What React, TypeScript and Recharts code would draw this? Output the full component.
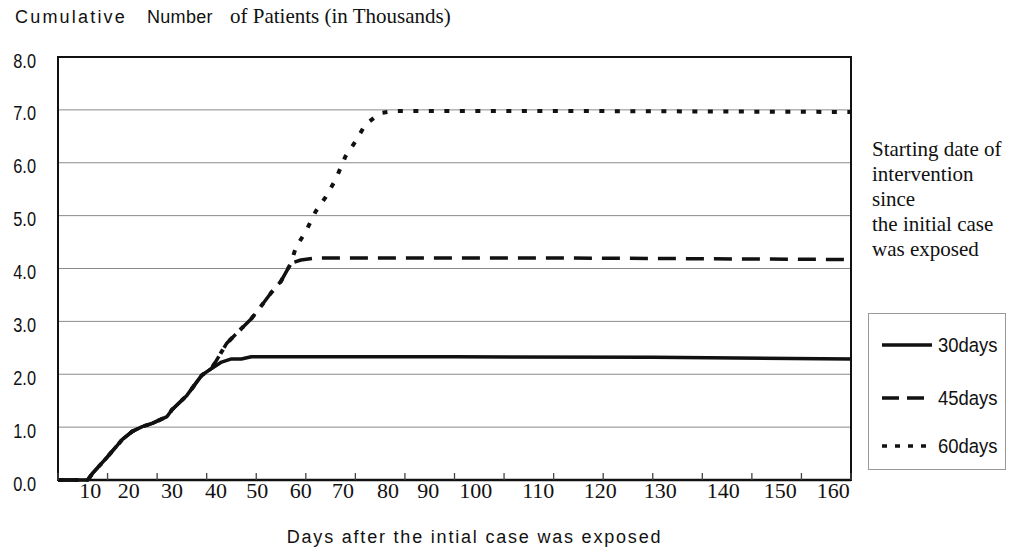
import React from "react";
import { LineChart, Line, XAxis, YAxis, CartesianGrid, ReferenceArea } from "recharts";

// days since the first exposure, and cumulative patients (thousands)
const days30 = [0, 6, 7, 10, 13, 15, 17, 19, 22, 23, 26, 29, 31, 33, 35, 37, 39, 80, 120, 160];
const values30 = [0, 0, 0.13, 0.44, 0.77, 0.92, 1.01, 1.07, 1.2, 1.33, 1.6, 1.98, 2.11, 2.23, 2.29, 2.29, 2.33, 2.33, 2.32, 2.29];

const days45 = [0, 6, 7, 10, 13, 15, 17, 19, 22, 23, 26, 29, 31, 34, 36, 39, 41, 43, 45, 47, 49, 52, 100, 160];
const values45 = [0, 0, 0.13, 0.44, 0.77, 0.92, 1.01, 1.07, 1.2, 1.33, 1.6, 1.98, 2.11, 2.58, 2.77, 3.05, 3.29, 3.54, 3.76, 4.1, 4.16, 4.2, 4.2, 4.17];

const days60 = [0, 6, 7, 10, 13, 15, 17, 19, 22, 23, 26, 29, 31, 34, 36, 39, 41, 43, 45, 47, 48, 50, 52, 54, 56, 58, 60, 62, 65, 68, 100, 160];
const values60 = [0, 0, 0.13, 0.44, 0.77, 0.92, 1.01, 1.07, 1.2, 1.33, 1.6, 1.98, 2.11, 2.58, 2.77, 3.05, 3.29, 3.54, 3.76, 4.1, 4.4, 4.7, 5.08, 5.35, 5.68, 6.12, 6.4, 6.72, 6.94, 6.98, 6.98, 6.96];

const yTicks = [0, 1, 2, 3, 4, 5, 6, 7, 8];
const xTickMarks = [0, 10, 20, 30, 40, 50, 60, 70, 80, 90, 100, 110, 120, 130, 140, 150, 160];
// the printed labels sit off their tick marks in the original figure
const xLabels = ["10", "20", "30", "40", "50", "60", "70", "80", "90", "100", "110", "120", "130", "140", "150", "160"];
const xLabelAt = [6.5, 14.3, 23.0, 31.9, 40.2, 49.0, 57.5, 66.6, 74.7, 84.3, 96.9, 109.4, 121.5, 134.2, 145.7, 156.4];

// both x axes share the 0-160 domain; one line is bound to the tick-mark axis so it gets ticks
const series = [
  { name: "30days", days: days30, values: values30, dash: undefined, width: 3.5, axis: "marks" },
  { name: "45days", days: days45, values: values45, dash: "18 10", width: 3.5, axis: "labels" },
  { name: "60days", days: days60, values: values60, dash: "5 10.5", width: 4, axis: "labels" },
];

const SERIF = '"Liberation Serif", "Times New Roman", serif';
const SANS = '"Liberation Sans", Arial, sans-serif';
const INK = "#111";

const CHART_W = 1020;
const CHART_H = 550;
const LABEL_AXIS_H = 40;
const TITLE_AXIS_H = 30;
const PLOT_BOTTOM = CHART_H - LABEL_AXIS_H - TITLE_AXIS_H;

const toRows = (days: number[], values: number[]) => days.map((day, i) => ({ day, v: values[i] }));

function XLabelTick(props: any) {
  const { x, y, payload } = props;
  return (
    <text x={x} y={y + 14} textAnchor="middle" fontFamily={SERIF} fontSize={22} fill={INK}>
      {xLabels[xLabelAt.indexOf(payload.value)]}
    </text>
  );
}

// short tick marks pointing up into the plot from the bottom axis
function XMarkTick(props: any) {
  const { x } = props;
  return <line x1={x} x2={x} y1={PLOT_BOTTOM} y2={PLOT_BOTTOM - 7} stroke="#444" strokeWidth={1.3} />;
}

function YLabelTick(props: any) {
  const { x, y, payload } = props;
  return (
    <text transform={`translate(${x},${y + 10.5}) scale(0.78,1)`} textAnchor="end" fontFamily={SANS} fontSize={21} fill={INK}>
      {Number(payload.value).toFixed(1)}
    </text>
  );
}

function LegendBox() {
  const samples = [
    { name: "30days", dash: undefined, top: 31 },
    { name: "45days", dash: "17 8", top: 84 },
    { name: "60days", dash: "5 8", top: 132 },
  ];
  return (
    <div style={{ position: "absolute", left: 868, top: 313, width: 138, height: 157, boxSizing: "border-box", border: "1px solid #999" }}>
      {samples.map((s) => (
        <div key={s.name} style={{ position: "absolute", left: 13, top: s.top - 12, height: 24, display: "flex", alignItems: "center" }}>
          <svg width={52} height={24}>
            <line x1={0} y1={12} x2={50} y2={12} stroke={INK} strokeWidth={3.5} strokeDasharray={s.dash} />
          </svg>
          <span style={{ fontFamily: SANS, fontSize: 20.5, color: INK, marginLeft: 4, display: "inline-block", transform: "scaleX(0.9)", transformOrigin: "left center" }}>
            {s.name}
          </span>
        </div>
      ))}
    </div>
  );
}

export default function App() {
  return (
    <div style={{ position: "absolute", left: 0, top: 0, width: CHART_W, height: CHART_H, background: "#fff" }}>
      <span style={{ position: "absolute", left: 15, top: 5, fontFamily: SANS, fontSize: 18, letterSpacing: 2.2, color: INK, lineHeight: "24px" }}>Cumulative</span>
      <span style={{ position: "absolute", left: 147, top: 5, fontFamily: SANS, fontSize: 18, letterSpacing: 0.3, color: INK, lineHeight: "24px" }}>Number</span>
      <span style={{ position: "absolute", left: 230, top: 4, fontFamily: SERIF, fontSize: 21, color: INK, lineHeight: "24px" }}>of Patients (in Thousands)</span>

      <LineChart width={CHART_W} height={CHART_H} margin={{ top: 57, right: 169, bottom: 0, left: 0 }}>
        <CartesianGrid vertical={false} stroke="#8a8a8a" strokeWidth={1} xAxisId="labels" />
        <XAxis
          xAxisId="labels"
          type="number"
          dataKey="day"
          domain={[0, 160]}
          ticks={xLabelAt}
          interval={0}
          tick={XLabelTick}
          tickLine={false}
          tickSize={4}
          tickMargin={0}
          axisLine={{ stroke: INK, strokeWidth: 2.5 }}
          height={LABEL_AXIS_H}
        />
        <XAxis
          xAxisId="marks"
          type="number"
          dataKey="day"
          domain={[0, 160]}
          ticks={xTickMarks}
          interval={0}
          tick={XMarkTick}
          tickLine={false}
          axisLine={false}
          height={TITLE_AXIS_H}
          label={{
            value: "Days after the intial case was exposed",
            position: "insideBottom",
            offset: 7,
            dx: 20,
            fill: INK,
            style: { fontFamily: SANS, fontSize: 18, letterSpacing: "1.8px" },
          }}
        />
        <YAxis
          type="number"
          domain={[0, 8]}
          ticks={yTicks}
          interval={0}
          width={58}
          tick={YLabelTick}
          tickLine={false}
          tickSize={6}
          tickMargin={16}
          axisLine={{ stroke: INK, strokeWidth: 2 }}
        />
        <ReferenceArea xAxisId="labels" x1={0} x2={160} y1={0} y2={8} fill="none" stroke={INK} strokeWidth={2} ifOverflow="visible" />
        {series.map((s) => (
          <Line
            key={s.name}
            name={s.name}
            xAxisId={s.axis}
            data={toRows(s.days, s.values)}
            dataKey="v"
            type="linear"
            stroke={INK}
            strokeWidth={s.width}
            strokeDasharray={s.dash}
            strokeLinejoin="round"
            dot={false}
            activeDot={false}
            isAnimationActive={false}
          />
        ))}
      </LineChart>

      <div style={{ position: "absolute", left: 872, top: 137, fontFamily: SERIF, fontSize: 21, lineHeight: "25px", color: INK, whiteSpace: "nowrap" }}>
        Starting date of<br />intervention<br />since<br />the initial case<br />was exposed
      </div>
      <LegendBox />
    </div>
  );
}
